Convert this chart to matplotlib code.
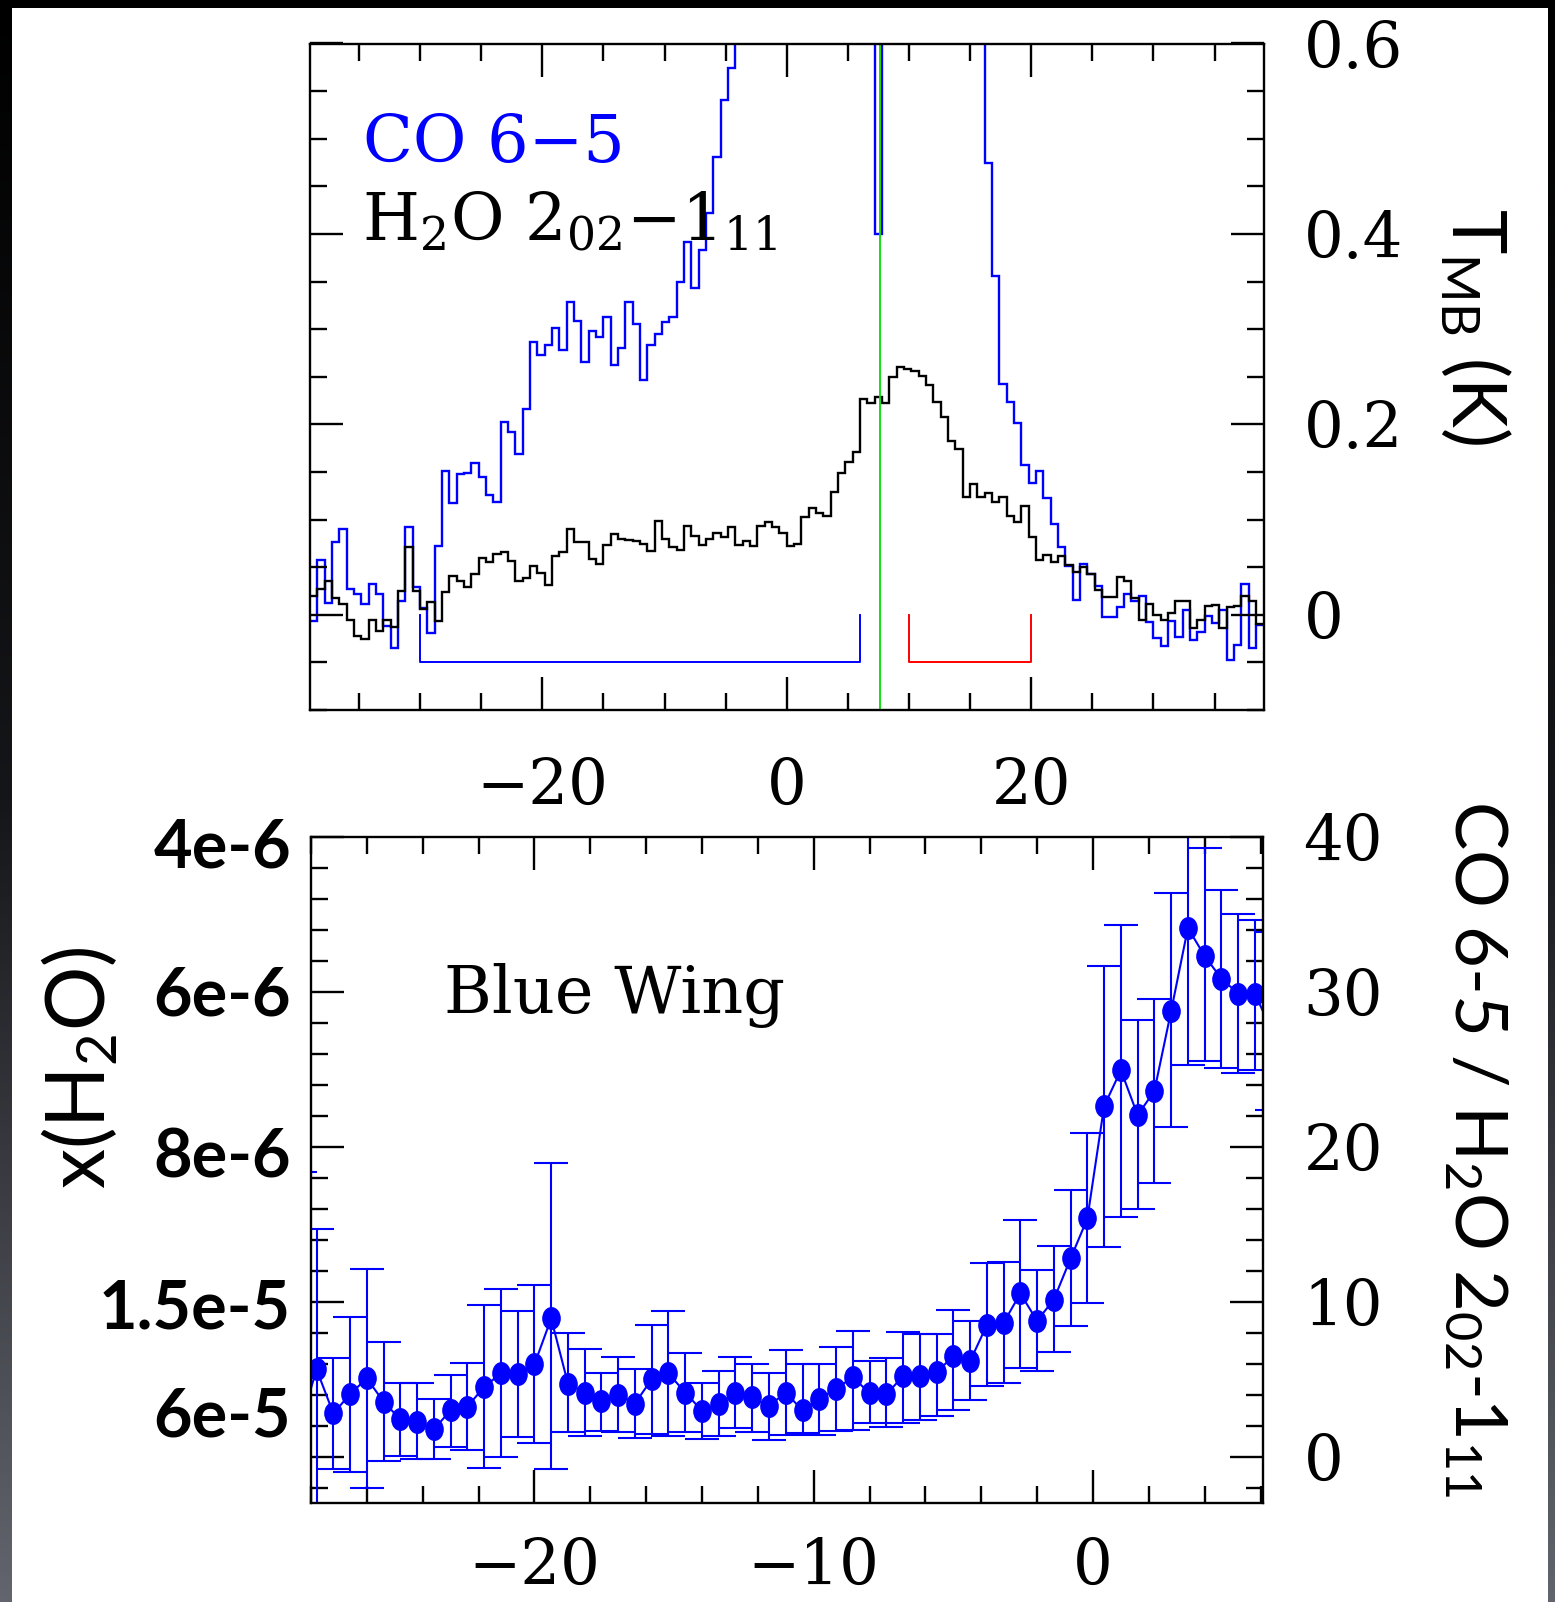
import numpy as np
import matplotlib
matplotlib.use("Agg")
import matplotlib.pyplot as plt
from matplotlib.ticker import MultipleLocator, FuncFormatter
from matplotlib.colors import LinearSegmentedColormap
from matplotlib.patches import Rectangle
from matplotlib.path import Path
from matplotlib.transforms import Affine2D, blended_transform_factory

plt.rcParams["font.family"] = ["DejaVu Serif"]
plt.rcParams["mathtext.default"] = "regular"

# --- spectra (Tmb in K), 0.6 km/s channels starting at -39 km/s ---
V_START = -39.0
CHAN_WIDTH = 0.6

h2o_202_111 = [
    0.020, 0.027, 0.036, 0.018, 0.011, -0.006, -0.022, -0.025, -0.006, -0.017, -0.006, -0.013,
    0.025, 0.071, 0.025, 0.006, 0.013, -0.007, 0.024, 0.041, 0.036, 0.029, 0.043, 0.060,
    0.055, 0.064, 0.066, 0.057, 0.036, 0.039, 0.051, 0.044, 0.031, 0.062, 0.066, 0.090,
    0.076, 0.076, 0.059, 0.053, 0.073, 0.085, 0.080, 0.079, 0.078, 0.074, 0.067, 0.099,
    0.080, 0.071, 0.068, 0.093, 0.083, 0.073, 0.080, 0.086, 0.082, 0.092, 0.073, 0.077,
    0.072, 0.093, 0.097, 0.092, 0.086, 0.072, 0.074, 0.103, 0.112, 0.107, 0.104, 0.129,
    0.149, 0.160, 0.171, 0.227, 0.222, 0.229, 0.222, 0.250, 0.260, 0.258, 0.256, 0.251,
    0.241, 0.223, 0.208, 0.183, 0.174, 0.124, 0.137, 0.124, 0.128, 0.118, 0.124, 0.104,
    0.097, 0.114, 0.082, 0.058, 0.063, 0.055, 0.062, 0.052, 0.045, 0.050, 0.043, 0.026,
    0.019, 0.019, 0.040, 0.036, 0.018, -0.005, 0.011, 0.000, -0.005, 0.002, 0.015, 0.015,
    -0.014, -0.006, 0.009, 0.010, -0.014, 0.008, 0.009, 0.020, 0.015, -0.010,
]

co_65 = [
    -0.007, 0.058, 0.012, 0.076, 0.090, 0.027, 0.022, 0.011, 0.032, 0.022, -0.012, -0.035,
    0.014, 0.092, 0.029, 0.007, -0.019, 0.072, 0.151, 0.117, 0.148, 0.149, 0.159, 0.145,
    0.126, 0.118, 0.202, 0.192, 0.169, 0.216, 0.286, 0.273, 0.283, 0.301, 0.278, 0.328,
    0.309, 0.266, 0.298, 0.292, 0.313, 0.262, 0.280, 0.329, 0.305, 0.247, 0.283, 0.295,
    0.308, 0.313, 0.349, 0.391, 0.343, 0.383, 0.422, 0.481, 0.541, 0.574,
    0.66, 0.75, 0.86, 0.99, 1.13, 1.29, 1.46, 1.65, 1.86, 2.08, 2.31, 2.55, 2.78, 2.98,
    3.14, 3.25, 3.30, 3.27, 3.16,
    0.40,
    2.98, 2.74, 2.46, 2.15, 1.88, 1.63, 1.41, 1.22, 1.06, 0.93, 0.83, 0.75, 0.69, 0.64,
    0.475, 0.356, 0.242, 0.224, 0.201, 0.157, 0.138, 0.151, 0.123, 0.095, 0.071, 0.051,
    0.016, 0.053, 0.043, 0.030, -0.002, -0.002, 0.008, 0.022, 0.015, 0.020, -0.008, -0.024,
    -0.033, -0.007, -0.023, 0.005, -0.026, -0.018, -0.001, -0.009, 0.005, -0.048, -0.032, 0.032,
    -0.035, -0.011,
]

V_SOURCE = 7.6
BLUE_WING = (-30.0, 6.0)
RED_WING = (10.0, 20.0)

# --- CO 6-5 / H2O 2(02)-1(11) line ratio across the blue wing ---
RATIO_V_START = -28.4
ratio = [
    2.0,
    5.64, 2.80, 4.05, 5.06, 3.55, 2.41, 2.26, 1.77, 3.01, 3.23,
    4.52, 5.38, 5.34, 5.96, 8.93, 4.73, 4.15, 3.59, 4.02, 3.44,
    5.01, 5.38, 4.15, 2.97, 3.44, 4.09, 3.83, 3.29, 4.15, 2.99,
    3.74, 4.39, 5.14, 4.11, 4.03, 5.20, 5.20, 5.48, 6.48, 6.17,
    8.50, 8.65, 10.54, 8.78, 10.15, 12.80, 15.38, 22.63, 24.95, 22.05,
    23.61, 28.77, 34.13, 32.32, 30.86, 29.90, 29.90,
    27.5,
]
ratio_hi = [
    18.4,
    14.73, 6.39, 9.03, 12.15, 7.38, 4.77, 4.77, 3.72, 5.31, 6.06,
    9.79, 10.80, 9.40, 11.12, 18.93, 8.00, 6.99, 5.44, 6.45, 5.66,
    8.50, 9.42, 6.73, 4.77, 5.57, 6.45, 6.02, 5.42, 6.92, 6.00,
    5.98, 7.10, 8.13, 6.17, 6.40, 8.08, 7.94, 7.94, 9.48, 8.77,
    12.52, 12.58, 15.31, 12.05, 13.59, 17.20, 20.90, 31.66, 34.35, 28.22,
    29.57, 36.39, 42.00, 39.29, 36.60, 35.01, 34.67,
    33.9,
]
ratio_lo = [
    -3.5,
    -5.00, -0.81, -0.97, -2.04, -0.28, 0.05, -0.17, -0.17, 0.65, 0.47,
    -0.71, -0.04, 1.25, 0.90, -0.81, 1.57, 1.36, 1.68, 1.61, 1.22,
    1.50, 1.36, 1.61, 1.18, 1.36, 1.83, 1.61, 1.11, 1.40, 1.56,
    1.43, 1.65, 1.70, 2.20, 1.95, 2.20, 2.35, 2.63, 2.99, 3.66,
    4.58, 4.78, 5.70, 5.57, 6.74, 8.45, 9.94, 13.55, 15.48, 15.98,
    17.70, 21.29, 25.31, 25.53, 25.12, 24.77, 24.99,
    22.4,
]

# abundance scale written beside the ratio axis
xh2o_labels = ["4e-6", "6e-6", "8e-6", "1.5e-5", "6e-5"]
xh2o_at = [38.0, 28.5, 18.0, 8.26, 1.34]

BLUE = "#0000ff"
SANS = ["Lato", "DejaVu Sans"]

W, H = 1555, 1602
fig = plt.figure(figsize=(W / 100, H / 100), dpi=100)

# dark slide frame with a white card
bg = fig.add_axes([0, 0, 1, 1], zorder=-10)
frame = LinearSegmentedColormap.from_list("frame", ["#000000", "#151619", "#62656d"])
bg.imshow(np.linspace(0, 1, 256)[:, None], cmap=frame, aspect="auto",
          extent=[0, 1, 0, 1], origin="upper")
bg.add_patch(Rectangle((12 / W, 0), (1548 - 12) / W, (H - 8) / H,
                       transform=bg.transAxes, facecolor="white", lw=0))
bg.set_xlim(0, 1)
bg.set_ylim(0, 1)
bg.axis("off")


def style_axes(ax):
    for s in ax.spines.values():
        s.set_linewidth(1.7)
    ax.tick_params(which="both", direction="in", top=True, bottom=True,
                   left=True, right=True, labelleft=False, labelright=True,
                   width=1.7, labelsize=45)
    ax.tick_params(which="major", length=23.5)
    ax.tick_params(which="minor", length=12)


# ---------------- top: spectra ----------------
ax1 = fig.add_axes([310 / W, 1 - 710 / H, 953.5 / W, 666.5 / H])
edges = V_START + CHAN_WIDTH * np.arange(len(h2o_202_111) + 1)
ax1.stairs(co_65, edges, baseline=None, color=BLUE, lw=1.7)
ax1.stairs(h2o_202_111, edges, baseline=None, color="black", lw=1.7)
ax1.axvline(V_SOURCE, color="#00dd00", lw=1.3)

depth = -0.05
for (v0, v1), c in [(BLUE_WING, BLUE), (RED_WING, "red")]:
    ax1.plot([v0, v0, v1, v1], [0, depth, depth, 0], color=c, lw=1.4)

ax1.set_xlim(-39, 39)
ax1.set_ylim(-0.1, 0.6)
ax1.xaxis.set_major_locator(MultipleLocator(20))
ax1.xaxis.set_minor_locator(MultipleLocator(5))
ax1.yaxis.set_major_locator(MultipleLocator(0.2))
ax1.yaxis.set_minor_locator(MultipleLocator(0.05))
ax1.yaxis.set_major_formatter(FuncFormatter(lambda v, p: "0" if abs(v) < 1e-9 else f"{v:.1f}"))
style_axes(ax1)
ax1.tick_params(axis="x", pad=34)
ax1.tick_params(axis="y", pad=29)

ax1.text(0.0553, 0.8227, "CO 6\u22125", color=BLUE, fontsize=47,
         transform=ax1.transAxes, va="baseline")
ax1.text(0.0542, 0.704, "H$_2$O 2$_{02}$\u22121$_{11}$", color="black", fontsize=47,
         transform=ax1.transAxes, va="baseline")

# ---------------- bottom: line ratio ----------------
ax2 = fig.add_axes([311 / W, 1 - 1503.3 / H, 952.3 / W, 666.3 / H])
rv = RATIO_V_START + CHAN_WIDTH * np.arange(len(ratio))
r = np.array(ratio)
yerr = [r - np.array(ratio_lo), np.array(ratio_hi) - r]
ax2.errorbar(rv, r, yerr=yerr, fmt="none", ecolor=BLUE, elinewidth=1.5,
             capsize=12, capthick=1.5)
dot = Affine2D().scale(0.8, 1.0).transform_path(Path.unit_circle())
ax2.plot(rv, r, color=BLUE, lw=1.5, marker=dot, markersize=15.5,
         markerfacecolor=BLUE, markeredgecolor=BLUE)

ax2.set_xlim(-28, 6.1)
ax2.set_ylim(-3, 40)
ax2.xaxis.set_major_locator(MultipleLocator(10))
ax2.xaxis.set_minor_locator(MultipleLocator(2))
ax2.yaxis.set_major_locator(MultipleLocator(10))
ax2.yaxis.set_minor_locator(MultipleLocator(2))
style_axes(ax2)
ax2.tick_params(axis="x", pad=24)
ax2.tick_params(axis="y", pad=29)

ax2.text(0.1397, 0.736, "Blue Wing", fontsize=47, transform=ax2.transAxes,
         va="baseline")

lab_tr = blended_transform_factory(ax2.transAxes, ax2.transData)
for lab, y in zip(xh2o_labels, xh2o_at):
    ax2.text(-0.021, y, lab, transform=lab_tr, ha="right", va="baseline",
             fontsize=48, family=SANS, fontweight="bold", clip_on=False)

# slide axis titles
fig.text(80 / W, 1 - 1068 / H, "x(H$_2$O)", rotation=90, ha="center", va="center",
         fontsize=58, family=SANS)
fig.text(1476 / W, 1 - 327 / H, "T$_{MB}$ (K)", rotation=270, ha="center", va="center",
         fontsize=54, family=SANS)
fig.text(1476 / W, 1 - 1149 / H, "CO 6-5 / H$_2$O 2$_{02}$-1$_{11}$", rotation=270,
         ha="center", va="center", fontsize=52, family=SANS)

fig.savefig("out.png", dpi=100, facecolor=fig.get_facecolor())
